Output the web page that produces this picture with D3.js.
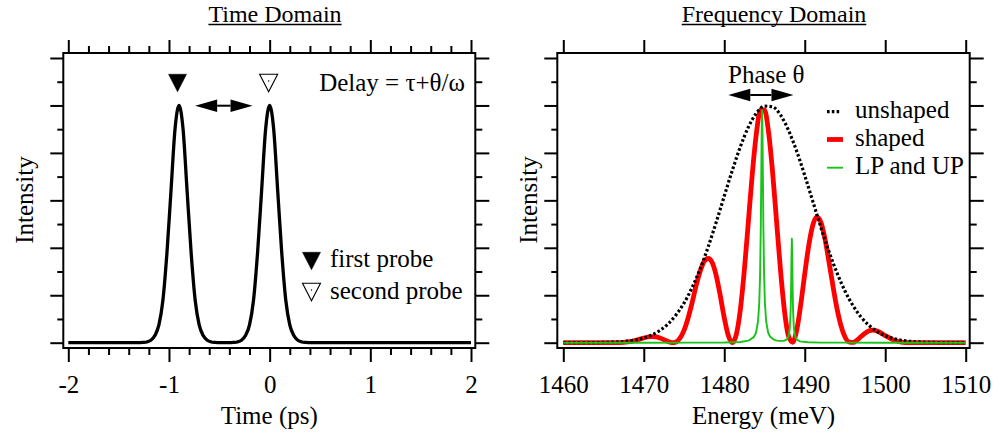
<!DOCTYPE html>
<html><head><meta charset="utf-8">
<script src="https://cdn.jsdelivr.net/npm/d3@7"></script>
<style>
body{margin:0;background:#fff;}
svg text{font-family:'Liberation Serif','Times New Roman',Times,serif;fill:#000;}
</style>
</head><body>
<svg id="c" width="1000" height="439"></svg>
<script>
// ---------------- data ----------------
const panelTitles = ["Time Domain", "Frequency Domain"];
const timeTitle = "Time (ps)";
const energyTitle = "Energy (meV)";
const yTitle = "Intensity";

const timeTicks = [-2, -1, 0, 1, 2];
const timeMinorTicks = d3.range(-2, 2.001, 0.2).map(v => +v.toFixed(1));
const energyTicks = [1460, 1470, 1480, 1490, 1500, 1510];
const yMajorTicks = [0, 0.2, 0.4, 0.6, 0.8, 1.0, 1.2];
const yMinorTicks = [0.1, 0.3, 0.5, 0.7, 0.9, 1.1];

// time-domain pulse pair (first probe at -0.9 ps, second at 0 ps)
const timePs = [-2, -1.5, -1.30, -1.26, -1.22, -1.18, -1.14, -1.10, -1.06, -1.02, -0.98, -0.94, -0.90,
  -0.86, -0.82, -0.78, -0.74, -0.70, -0.66, -0.62, -0.58, -0.54, -0.50, -0.45,
  -0.40, -0.36, -0.32, -0.28, -0.24, -0.20, -0.16, -0.12, -0.08, -0.04, 0,
  0.04, 0.08, 0.12, 0.16, 0.20, 0.24, 0.28, 0.32, 0.36, 0.40, 0.6, 1.0, 1.5, 2];
const timeIntensity = [0, 0, 0, 0.001, 0.003, 0.01, 0.03, 0.075, 0.18, 0.38, 0.64, 0.90, 1.0,
  0.90, 0.64, 0.38, 0.18, 0.075, 0.03, 0.01, 0.003, 0.001, 0, 0,
  0, 0.001, 0.003, 0.01, 0.03, 0.075, 0.18, 0.38, 0.64, 0.90, 1.0,
  0.90, 0.64, 0.38, 0.18, 0.075, 0.03, 0.01, 0.003, 0.001, 0, 0, 0, 0, 0];

// unshaped spectrum
const unshapedEnergy = d3.range(1460, 1511, 1);
const unshaped = [0, 0.00005, 0.0001, 0.0002, 0.0005, 0.001, 0.002, 0.0037, 0.0067, 0.0117,
  0.0198, 0.0324, 0.0514, 0.0788, 0.117, 0.167, 0.232, 0.311, 0.404, 0.508,
  0.618, 0.726, 0.826, 0.909, 0.968, 0.997, 0.994, 0.959, 0.894, 0.807,
  0.705, 0.596, 0.487, 0.385, 0.295, 0.218, 0.156, 0.108, 0.0725, 0.047,
  0.0295, 0.018, 0.0105, 0.006, 0.0033, 0.0017, 0.001, 0.0005, 0.0002, 0.0001, 0];

// shaped spectrum
const shapedEnergy = [1460, 1464, 1466, 1467, 1468, 1469, 1469.5, 1470, 1470.5, 1471, 1471.5, 1472, 1472.5,
  1473, 1473.5, 1474, 1474.5, 1475, 1475.5, 1476, 1476.5, 1477, 1477.5, 1478, 1478.5,
  1479, 1479.5, 1480, 1480.5, 1481, 1481.5, 1482, 1482.5, 1483, 1483.5, 1484, 1484.5,
  1485, 1485.5, 1486, 1486.5, 1487, 1487.5, 1488, 1488.5, 1489, 1489.5, 1490, 1490.5,
  1491, 1491.5, 1492, 1492.5, 1493, 1493.5, 1494, 1494.5, 1495, 1495.5, 1496, 1496.5,
  1497, 1497.5, 1498, 1498.5, 1499, 1499.5, 1500, 1501, 1502, 1503, 1505, 1510];
const shaped = [0, 0.0001, 0.0002, 0.0004, 0.0032, 0.010, 0.015, 0.020, 0.024, 0.026, 0.025, 0.020, 0.013,
  0.005, 0.0002, 0.0034, 0.0195, 0.052, 0.103, 0.168, 0.240, 0.300, 0.343, 0.355, 0.338,
  0.283, 0.199, 0.105, 0.030, 0, 0.035, 0.140, 0.308, 0.512, 0.718, 0.885, 0.980,
  0.981, 0.889, 0.721, 0.511, 0.301, 0.129, 0.026, 0.002, 0.052, 0.160, 0.290, 0.410,
  0.495, 0.530, 0.508, 0.440, 0.343, 0.240, 0.145, 0.072, 0.024, 0.003, 0.001, 0.011,
  0.026, 0.040, 0.050, 0.053, 0.049, 0.040, 0.030, 0.012, 0.0025, 0, 0, 0];

// lower and upper polariton lines
const lpupEnergy = [1460, 1470, 1476, 1480, 1482, 1483, 1483.7, 1483.95, 1484.2, 1484.35, 1484.45, 1484.54,
  1484.6, 1484.65, 1484.7, 1484.75, 1484.8, 1484.86, 1484.95, 1485.05, 1485.2, 1485.45,
  1485.7, 1486.2, 1486.7, 1487.4, 1487.8, 1488.0, 1488.15, 1488.25, 1488.3, 1488.35,
  1488.4, 1488.45, 1488.5, 1488.55, 1488.65, 1488.8, 1489.0, 1489.4, 1490.4, 1492, 1495, 1500, 1510];
const lpup = [0, 0.0001, 0.0003, 0.001, 0.003, 0.0085, 0.0245, 0.043, 0.091, 0.169, 0.285, 0.49,
  0.705, 0.893, 0.98, 0.893, 0.705, 0.49, 0.285, 0.169, 0.091, 0.043,
  0.025, 0.012, 0.0077, 0.0077, 0.0144, 0.028, 0.062, 0.136, 0.22, 0.351,
  0.438, 0.351, 0.22, 0.136, 0.062, 0.0275, 0.0136, 0.0058, 0.002, 0.0005, 0.0002, 0.0001, 0];

const legendLabels = ["unshaped", "shaped", "LP and UP"];
const probeLabels = ["first probe", "second probe"];
const delayLabel = "Delay = τ+θ/ω";
const phaseLabel = "Phase θ";

// ---------------- layout ----------------
const svg = d3.select("#c");
const FS = 25;
const yTop = 53, yBot = 348;
const L = {x0: 63.3, x1: 475.3};
const R = {x0: 557.3, x1: 969.7};
const xT = d3.scaleLinear().domain([-2, 2]).range([68.3, 471]);
const xE = d3.scaleLinear().domain([1460, 1510]).range([563.3, 965.7]);
const y = d3.scaleLinear().domain([0, 1.2]).range([342.7, 58]);

function tickGroup(tx, ty, axis, vals, size, fmt) {
  const g = svg.append("g").attr("transform", `translate(${tx},${ty})`);
  g.call(axis.tickValues(vals).tickSize(size).tickSizeOuter(0).tickFormat(fmt || (() => "")));
  g.select(".domain").remove();
  g.selectAll("line").attr("stroke", "#000").attr("stroke-width", 2);
  return g;
}

function panelAxes(P, xs, majors, minors) {
  const gb = tickGroup(0, yBot, d3.axisBottom(xs), majors, 14, d => String(d));
  gb.selectAll("text").attr("y", 45).attr("dy", 0).attr("font-size", FS)
    .style("font-family", "'Liberation Serif','Times New Roman',serif");
  if (minors) tickGroup(0, yBot, d3.axisBottom(xs), minors, 7);
  tickGroup(0, yTop, d3.axisTop(xs), majors, 13);
  if (minors) tickGroup(0, yTop, d3.axisTop(xs), minors, 7);
  tickGroup(P.x0, 0, d3.axisLeft(y), yMajorTicks, 13);
  tickGroup(P.x0, 0, d3.axisLeft(y), yMinorTicks, 6);
  tickGroup(P.x1, 0, d3.axisRight(y), yMajorTicks, 14);
  tickGroup(P.x1, 0, d3.axisRight(y), yMinorTicks, 7);
  svg.append("rect").attr("x", P.x0).attr("y", yTop).attr("width", P.x1 - P.x0).attr("height", yBot - yTop)
    .attr("fill", "none").attr("stroke", "#000").attr("stroke-width", 2);
}

panelAxes(L, xT, timeTicks, timeMinorTicks.filter(v => !timeTicks.includes(v)));
panelAxes(R, xE, energyTicks, null);

// titles
function title(txt, cx) {
  const t = svg.append("text").attr("x", cx).attr("y", 21.5).attr("text-anchor", "middle")
    .attr("font-size", 24).text(txt);
  const bb = t.node().getBBox();
  svg.append("line").attr("x1", bb.x).attr("x2", bb.x + bb.width).attr("y1", 24.5).attr("y2", 24.5)
    .attr("stroke", "#000").attr("stroke-width", 1.3);
}
title(panelTitles[0], 275);
title(panelTitles[1], 774);

svg.append("text").attr("x", (L.x0 + L.x1) / 2).attr("y", 424).attr("text-anchor", "middle").attr("font-size", FS).text(timeTitle);
svg.append("text").attr("x", (R.x0 + R.x1) / 2).attr("y", 424).attr("text-anchor", "middle").attr("font-size", FS).text(energyTitle);
[33, 537].forEach(x => svg.append("text").attr("transform", `translate(${x},200) rotate(-90)`)
  .attr("text-anchor", "middle").attr("font-size", FS).text(yTitle));

// ---------------- time panel ----------------
const lineT = d3.line().x((d, i) => xT(timePs[i])).y(d => y(d)).curve(d3.curveMonotoneX);
svg.append("path").attr("d", lineT(timeIntensity)).attr("fill", "none").attr("stroke", "#000")
  .attr("stroke-width", 3.3).attr("stroke-linejoin", "round");

function tri(cx, cy, filled) {
  const w = 18, h = 17.5;
  svg.append("path").attr("d", `M${cx - w / 2},${cy - h / 2}L${cx + w / 2},${cy - h / 2}L${cx},${cy + h / 2}Z`)
    .attr("fill", filled ? "#000" : "#fff").attr("stroke", "#000").attr("stroke-width", filled ? 0.5 : 1.1);
  if (!filled) svg.append("circle").attr("cx", cx).attr("cy", cy - 2).attr("r", 0.7).attr("fill", "#000");
}
tri(xT(-0.915), 83, true);
tri(xT(-0.01), 83, false);

function dblArrow(x1, x2, yc) {
  const hl = 22, hh = 6.2;
  svg.append("path").attr("d",
    `M${x1},${yc}L${x1 + hl},${yc - hh}L${x1 + hl},${yc + hh}Z M${x2},${yc}L${x2 - hl},${yc - hh}L${x2 - hl},${yc + hh}Z`)
    .attr("fill", "#000");
  svg.append("line").attr("x1", x1 + hl).attr("x2", x2 - hl).attr("y1", yc).attr("y2", yc)
    .attr("stroke", "#000").attr("stroke-width", 2);
}
dblArrow(xT(-0.74), xT(-0.17), 105.7);

svg.append("text").attr("x", 465).attr("y", 91).attr("text-anchor", "end").attr("font-size", FS).text(delayLabel);

tri(311.5, 261, true);
tri(311.5, 292, false);
svg.append("text").attr("x", 330).attr("y", 267).attr("font-size", FS).text(probeLabels[0]);
svg.append("text").attr("x", 330).attr("y", 298.5).attr("font-size", FS).text(probeLabels[1]);

// ---------------- frequency panel ----------------
const mkLine = xs => d3.line().x((d, i) => xE(xs[i])).y(d => y(d)).curve(d3.curveMonotoneX);
svg.append("path").attr("d", mkLine(shapedEnergy)(shaped)).attr("fill", "none").attr("stroke", "#ff0000")
  .attr("stroke-width", 4.8).attr("stroke-linejoin", "round");
svg.append("path").attr("d", mkLine(unshapedEnergy)(unshaped)).attr("fill", "none").attr("stroke", "#000")
  .attr("stroke-width", 3.2).attr("stroke-dasharray", "2.6,2.2");
svg.append("path").attr("d", d3.line().x((d, i) => xE(lpupEnergy[i])).y(d => y(d))(lpup)).attr("fill", "none")
  .attr("stroke", "#19c319").attr("stroke-width", 1.9).attr("stroke-linejoin", "round");

svg.append("text").attr("x", 728).attr("y", 83).attr("font-size", FS).text(phaseLabel);
dblArrow(xE(1480.5), xE(1488.6), 95);

// legend
const legY = [111.7, 139.5, 167.7];
const legStyles = [
  {stroke: "#000", w: 3.2, dash: "2.6,2.2"},
  {stroke: "#ff0000", w: 4.8, dash: null},
  {stroke: "#19c319", w: 1.9, dash: null}
];
legendLabels.forEach((lab, i) => {
  const s = legStyles[i];
  svg.append("line").attr("x1", 827).attr("x2", i === 0 ? 840.5 : 843).attr("y1", legY[i]).attr("y2", legY[i])
    .attr("stroke", s.stroke).attr("stroke-width", s.w).attr("stroke-dasharray", s.dash);
  svg.append("text").attr("x", 855).attr("y", legY[i] + 6).attr("font-size", FS).text(lab);
});
</script>
</body></html>
